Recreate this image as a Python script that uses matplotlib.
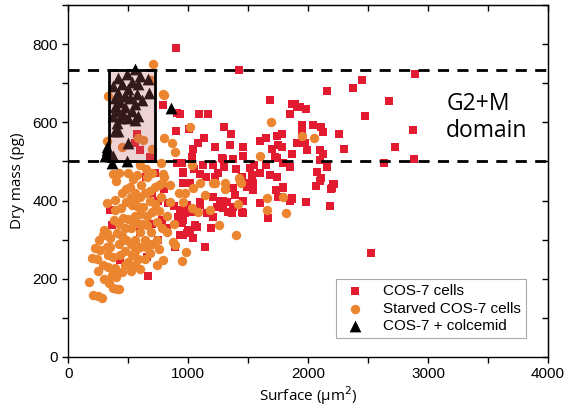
import numpy as np
import matplotlib
matplotlib.use('Agg')
import matplotlib.pyplot as plt
from matplotlib.patches import Rectangle
from matplotlib.ticker import MultipleLocator

# COS-7 cells (surface um^2, dry mass pg)
red_x = [900, 1425, 2890, 2450, 2370, 2160, 2670, 2475, 2870, 2720, 2630, 2880, 2260, 2300, 2525, 2183,
         1983, 1867, 2067, 2200, 2208, 2100,
         1933, 1983, 1890, 1950, 2042, 2108, 2125, 1950, 1917, 1975, 1992, 2100, 2125,
         2100, 2158, 2075, 2108, 2217, 2192,
         1683, 1867, 1850, 1092, 1167, 1008, 933, 1300, 1358, 1133, 1042, 1083, 1225, 1350, 1458, 1600,
         1650, 1742, 1783, 1750, 1700, 1783, 1867, 1908, 1908, 1458, 1283, 1033, 1375, 1725,
         1292, 1742, 1792, 1850, 950, 1125, 1208, 1225, 1517, 1533, 1492, 1542, 1683, 1742, 1792, 1733,
         1867, 1600, 1667,
         1375, 1392, 1325, 1458, 1367, 1292, 1208, 1192, 992, 958, 1058, 1017, 958, 958, 1100, 1208, 1267, 1100,
         1042, 1142, 933, 992,
         667, 892, 433, 658, 367, 350,
         833, 880, 933, 950, 958, 1000, 1075, 917, 975, 1042, 1100, 1158, 1242, 1292, 1333, 1375, 1450, 1458,
         1492, 1542, 1750, 1792, 1850,
         792, 908, 900, 575, 600, 558, 683,
         908, 960, 1017, 1050, 1150, 1250, 1300, 1400, 1450, 1550, 1600, 1650,
         700, 750, 800, 650, 720, 780, 820, 750, 600, 700]
red_y = [790, 735, 724, 709, 687, 681, 655, 615, 581, 538, 497, 505, 571, 533, 265, 385,
         395, 403, 436, 431, 441, 451,
         640, 633, 648, 592, 594, 589, 574, 574, 548, 546, 528, 530, 520,
         503, 485, 472, 457, 441, 429,
         658, 648, 620, 622, 622, 584, 622, 587, 571, 561, 533, 546, 538, 541, 538, 551,
         561, 564, 571, 543, 533, 538, 520, 548, 638, 515, 508, 510, 505, 510,
         505, 508, 497, 485, 497, 490, 490, 459, 482, 464, 446, 444, 464, 459, 434, 426,
         406, 393, 355,
         431, 413, 395, 367, 367, 380, 357, 329, 388, 349, 337, 324, 446, 472, 469, 408, 400, 395,
         304, 281, 311, 316,
         207, 281, 247, 255, 337, 375,
         393, 385, 375, 342, 311, 324, 332, 357, 367, 370, 388, 367, 383, 400, 370, 383, 370, 400,
         434, 426, 408, 431, 400,
         645, 625, 579, 571, 528, 548, 510,
         495, 470, 446, 480, 460, 470, 485, 480, 460, 490, 470, 490,
         420, 400, 430, 460, 470, 350, 330, 300, 320, 340]

# Starved COS-7 cells
orange_x = [708, 692, 800, 333, 792, 1017, 1692, 1950, 2050, 800, 867, 892, 325, 583, 625, 450, 700, 775,
            792, 375, 600, 575, 800, 850, 1208, 1433, 1600, 1033, 1100, 1225, 1308, 1308, 1425, 1442,
            1042, 975, 1142, 1417, 1033, 1083, 1183, 1258, 1400, 1658, 1792, 1658, 1817, 983, 950,
            175, 208, 250, 283, 375, 408, 425, 200, 225, 267, 292, 333, 367, 392, 450, 475, 500, 558, 583,
            533, 375, 292, 300, 325, 350, 408, 450, 480, 520, 560, 600, 325, 392, 392, 450, 483, 517, 533,
            575, 625, 558, 600, 642, 683, 725, 758, 783, 680, 720, 758, 458, 500, 533, 575, 617, 658, 825,
            875, 892, 742, 792, 680, 650, 700, 740, 760,
            350, 420, 470, 520, 560, 600, 640, 420, 380, 440, 480, 520, 560, 610, 660, 700, 650, 400, 420,
            500, 540, 700, 740, 780, 820, 850, 600, 660, 470, 430, 320, 260, 240, 250, 330, 300, 340, 400,
            520, 560, 640, 600, 690, 770, 880, 920, 960]
orange_y = [750, 709, 671, 666, 673, 587, 602, 566, 561, 561, 548, 523, 551, 559, 554, 538, 533, 497,
            469, 469, 490, 464, 460, 440, 446, 451, 515, 490, 444, 446, 446, 429, 457, 444,
            431, 418, 413, 390, 380, 370, 375, 337, 311, 406, 408, 375, 367, 268, 245,
            191, 158, 156, 151, 176, 173, 173, 252, 278, 273, 235, 230, 209, 227, 217, 235, 242, 235, 250,
            260, 255, 311, 324, 318, 304, 316, 310, 300, 290, 300, 280, 393, 401, 375, 418, 430, 434, 388,
            385, 383, 406, 408, 418, 425, 435, 440, 444, 400, 390, 372, 355, 352, 349, 342, 340, 337, 319,
            293, 286, 235, 247, 265, 280, 290, 300, 275,
            280, 290, 270, 330, 360, 320, 300, 340, 350, 380, 395, 410, 420, 440, 460, 470, 480, 450, 470,
            470, 455, 370, 345, 330, 360, 395, 365, 360, 330, 260, 280, 300, 250, 220, 260, 200, 190, 205,
            220, 270, 250, 225, 320, 410, 340, 420, 395]

# COS-7 + colcemid
black_x = [558, 492, 417, 600, 667, 533, 450, 583, 375, 500, 417, 675, 575, 475, 392, 517, 617, 433, 558,
           392, 475, 417, 533, 458, 375, 583, 433, 500, 408, 558, 392, 500, 325, 308, 375, 860,
           325, 350, 367, 492, 417]
black_y = [737, 724, 714, 719, 712, 702, 699, 699, 694, 686, 676, 676, 673, 668, 663, 661, 656, 651, 648,
           638, 638, 630, 630, 622, 617, 617, 610, 610, 597, 605, 579, 546, 528, 515, 515, 636,
           536, 513, 497, 500, 579]

g2m_low, g2m_high = 500, 735

plt.rcParams['font.family'] = ['Liberation Sans', 'DejaVu Sans']
calibri_like = ['Open Sans', 'DejaVu Sans']

fig = plt.figure(figsize=(5.68, 4.16), dpi=100)
ax = fig.add_axes([0.12, 0.142, 0.845, 0.846])

ax.scatter(red_x, red_y, marker='s', s=28, color='#e21b30', linewidths=0, label='COS-7 cells', zorder=2)
ax.scatter(orange_x, orange_y, marker='o', s=46, color='#ec8530', linewidths=0,
           label='Starved COS-7 cells', zorder=3)
ax.scatter(black_x, black_y, marker='^', s=72, color='black', linewidths=0,
           label='COS-7 + colcemid', zorder=4)

# dashed G2+M limits
ax.axhline(g2m_high, color='black', lw=2, ls=(0, (4, 3)), zorder=5)
ax.axhline(g2m_low, color='black', lw=2, ls=(0, (4, 3)), zorder=5)

# colcemid box, translucent over the markers
ax.add_patch(Rectangle((340, g2m_low), 385, g2m_high - g2m_low, facecolor='#be5f5f', alpha=0.27,
                       edgecolor='none', zorder=6))
ax.add_patch(Rectangle((340, g2m_low), 385, g2m_high - g2m_low, facecolor='none',
                       edgecolor='black', lw=2, zorder=7))

ax.text(3150, 612, 'G2+M\ndomain', fontsize=16.5, family=calibri_like,
        ha='left', va='center', linespacing=1.15)

ax.set_xlim(0, 4000)
ax.set_ylim(0, 900)
ax.xaxis.set_major_locator(MultipleLocator(1000))
ax.xaxis.set_minor_locator(MultipleLocator(500))
ax.yaxis.set_major_locator(MultipleLocator(200))
ax.yaxis.set_minor_locator(MultipleLocator(100))
ax.tick_params(which='both', labelsize=11, length=4, width=1, direction='out')

# inward ticks on top and right
sx = ax.secondary_xaxis('top')
sx.set_xticks(np.arange(0, 4001, 500))
sx.tick_params(direction='in', labeltop=False, length=4, width=1)
sy = ax.secondary_yaxis('right')
sy.set_yticks(np.arange(0, 901, 100))
sy.tick_params(direction='in', labelright=False, length=4, width=1)
for s in ax.spines.values():
    s.set_linewidth(1)

ax.set_xlabel('Surface (\u00b5m$^2$)', fontsize=11, family=calibri_like, labelpad=2)
ax.set_ylabel('Dry mass (pg)', fontsize=11, family=calibri_like, labelpad=5)

leg = ax.legend(loc='lower right', bbox_to_anchor=(0.954, 0.054), fontsize=11, fancybox=False,
                edgecolor='#aaaaaa', framealpha=1, handletextpad=0.9, borderpad=0.35,
                labelspacing=0.2, handlelength=1.8, borderaxespad=0)
leg.get_frame().set_linewidth(0.8)
leg.set_zorder(10)

fig.savefig('out.png', dpi=100)
